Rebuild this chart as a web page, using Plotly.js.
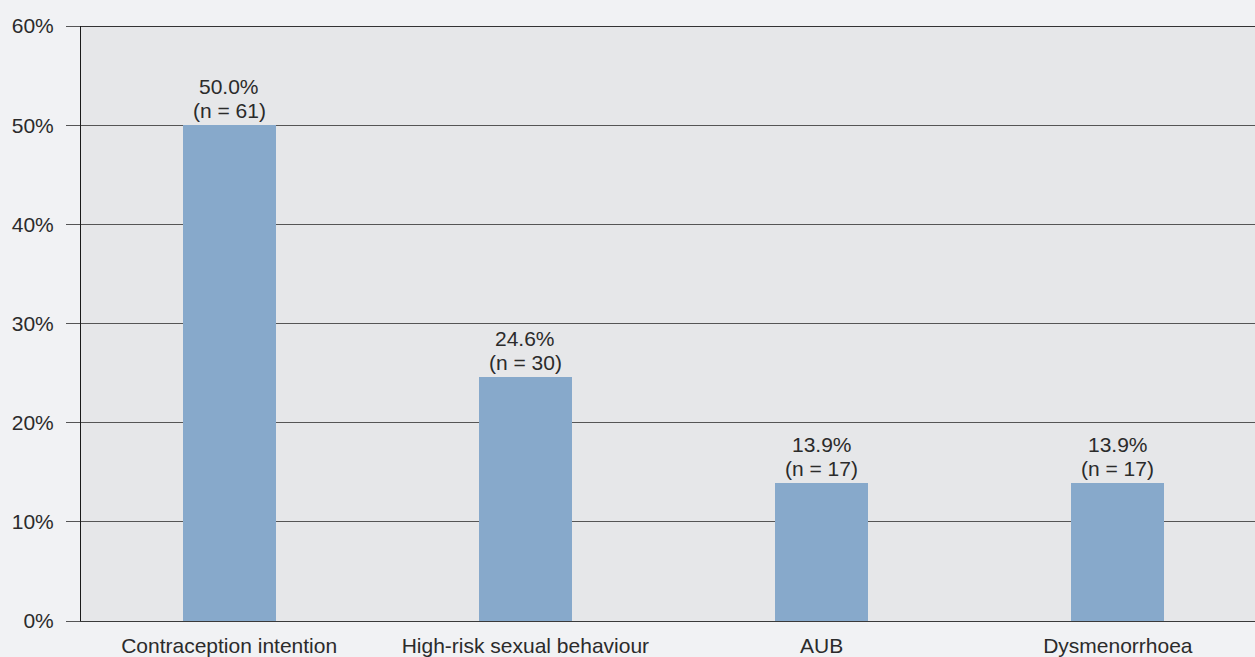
<!DOCTYPE html>
<html><head><meta charset="utf-8">
<script src="https://cdn.plot.ly/plotly-3.0.1.min.js"></script>
<style>html,body{margin:0;padding:0;background:#f1f2f4;}</style>
</head><body><div id="chart" style="width:1255px;height:657px;"></div>
<script>
const categories = ["Contraception intention", "High-risk sexual behaviour", "AUB", "Dysmenorrhoea"];
const percents = [50.0, 24.6, 13.9, 13.9];
const counts = [61, 30, 17, 17];
const yTickVals = [0, 10, 20, 30, 40, 50, 60];
const yTickText = ["0%", "10%", "20%", "30%", "40%", "50%", "60%"];

const FONT = "Liberation Sans, Arial, sans-serif";
const FS = 21;
const TXT = "#2b2b2b";

const trace = {
  type: "bar",
  x: categories,
  y: percents,
  marker: {color: "#87a9cb"},
  width: 0.314,
  hoverinfo: "none"
};

const annotations = [];
categories.forEach((c, i) => {
  annotations.push({
    x: c, y: percents[i], xref: "x", yref: "y",
    text: "(n = " + counts[i] + ")", showarrow: false,
    yanchor: "bottom", yshift: 1,
    font: {family: FONT, size: FS, color: TXT}
  });
  annotations.push({
    x: c, y: percents[i], xref: "x", yref: "y",
    text: percents[i].toFixed(1) + "%", showarrow: false,
    yanchor: "bottom", yshift: 25,
    font: {family: FONT, size: FS, color: TXT}
  });
});

const layout = {
  width: 1255, height: 657,
  margin: {l: 81, r: 0, t: 26, b: 36},
  paper_bgcolor: "#f1f2f4",
  plot_bgcolor: "#e6e7e9",
  font: {family: FONT, size: FS, color: TXT},
  showlegend: false,
  xaxis: {
    type: "category",
    range: [-0.5, 3.463],
    showgrid: false,
    showline: true, linecolor: "#3a3a3a", linewidth: 1,
    ticks: "", ticklen: 0,
    tickfont: {family: FONT, size: FS, color: TXT},
    ticklabelstandoff: 6,
    fixedrange: true
  },
  yaxis: {
    range: [0, 60],
    tickvals: yTickVals,
    ticktext: yTickText,
    ticks: "outside", ticklen: 14, tickcolor: "#555555", tickwidth: 1,
    showgrid: true, gridcolor: "#555555", gridwidth: 1,
    showline: true, linecolor: "#1a1a1a", linewidth: 1,
    zeroline: false,
    tickfont: {family: FONT, size: FS, color: TXT},
    ticklabelstandoff: 8,
    fixedrange: true
  },
  annotations: annotations,
  shapes: [{type: "line", xref: "paper", yref: "y", x0: 0, x1: 1, y0: 60, y1: 60, line: {color: "#333333", width: 2}}],
  bargap: 0
};

Plotly.newPlot("chart", [trace], layout, {displayModeBar: false, staticPlot: true});
</script></body></html>
